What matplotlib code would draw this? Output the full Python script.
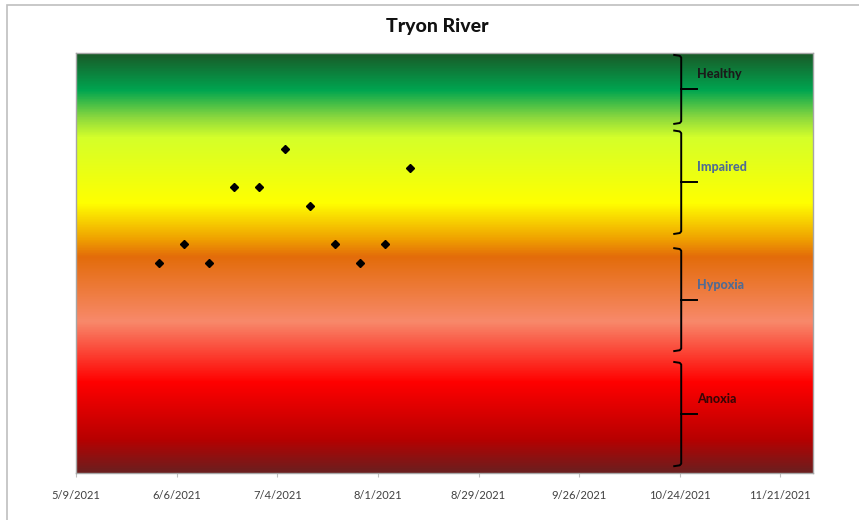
import numpy as np
import pandas as pd
import matplotlib
matplotlib.use("Agg")
import matplotlib.pyplot as plt
from matplotlib.colors import LinearSegmentedColormap
from matplotlib.patches import Rectangle

# --- Data ---
sample_dates = ["2021-06-01", "2021-06-08", "2021-06-15", "2021-06-22", "2021-06-29",
                "2021-07-06", "2021-07-13", "2021-07-20", "2021-07-27", "2021-08-03",
                "2021-08-10"]
values = [11, 12, 11, 15, 15, 17, 14, 12, 11, 12, 16]

band_labels = ["Healthy", "Impaired", "Hypoxia", "Anoxia"]
band_colors = ["#1a1a1a", "#4f6b94", "#4f6b94", "#3a0505"]

# --- Styling ---
FONT = ["Lato", "DejaVu Sans"]
X_MIN, X_MAX = pd.Timestamp("2021-05-09"), pd.Timestamp("2021-11-30")
Y_MIN, Y_MAX = 0, 22

# background gradient stops (axes fraction from bottom, colour)
grad_stops = [
    (0.00, "#6b1f1f"),
    (0.08, "#b80000"),
    (0.215, "#ff0000"),
    (0.36, "#f8896b"),
    (0.515, "#e36c0a"),
    (0.56, "#f0a400"),
    (0.643, "#ffff00"),
    (0.80, "#d4ff2a"),
    (0.848, "#8bd83e"),
    (0.913, "#00a550"),
    (1.00, "#195a28"),
]

# bracket extents (axes fraction) for each band: top, bottom
bracket_spans = [(0.996, 0.832), (0.816, 0.570), (0.536, 0.291), (0.265, 0.017)]

fig = plt.figure(figsize=(8.59, 5.20), dpi=100)
ax = fig.add_axes([76.1 / 859, 1 - 473.3 / 520, (812.7 - 76.1) / 859, 420 / 520])

# outer chart border (only top and left visible in the crop)
fig.patches.append(Rectangle((6.5 / 859, -0.1), 1.2, 1 - 5.3 / 520 + 0.1,
                             transform=fig.transFigure, fill=False,
                             edgecolor="#bfbfbf", linewidth=1.2, zorder=0))

cmap = LinearSegmentedColormap.from_list("bands", grad_stops)
grad = np.linspace(0, 1, 512).reshape(-1, 1)
ax.imshow(grad, cmap=cmap, origin="lower", aspect="auto",
          extent=[0, 1, 0, 1], transform=ax.transAxes, zorder=0)

x = pd.to_datetime(sample_dates)
ax.plot(x, values, linestyle="none", marker="D", markersize=4.2,
        color="black", zorder=3)

ax.set_xlim(X_MIN, X_MAX)
ax.set_ylim(Y_MIN, Y_MAX)

ticks = pd.date_range(X_MIN, periods=8, freq="28D")
ax.set_xticks(ticks)
ax.set_xticklabels([f"{d.month}/{d.day}/{d.year}" for d in ticks],
                   fontsize=8, color="#404040", family=FONT)
ax.tick_params(axis="x", length=3, color="#bfbfbf", pad=9)
ax.set_yticks([])
for s in ax.spines.values():
    s.set_color("#a6a6a6")
    s.set_linewidth(1.0)

ax.set_title("Tryon River", fontsize=14, fontweight="black", family=FONT,
             color="#111111", pad=15, x=0.49)

# brackets with labels
xv, xh, xt = 0.8215, 0.812, 0.843
for (top, bot), lab, col in zip(bracket_spans, band_labels, band_colors):
    mid = (top + bot) / 2
    c = 0.006
    ax.plot([xh, xv - 0.002, xv, xv, xv - 0.002, xh],
            [top, top - 0.002, top - c, bot + c, bot + 0.002, bot],
            transform=ax.transAxes, color="black", linewidth=1.4,
            clip_on=False, zorder=4, solid_joinstyle="round")
    ax.plot([xv, xt], [mid, mid], transform=ax.transAxes, color="black",
            linewidth=1.4, clip_on=False, zorder=4)
    ax.text(xt, mid + 0.036, lab, transform=ax.transAxes, fontsize=9,
            fontweight="black", color=col, family=FONT, va="center", ha="left",
            zorder=5)

fig.savefig("out.png", dpi=100)
